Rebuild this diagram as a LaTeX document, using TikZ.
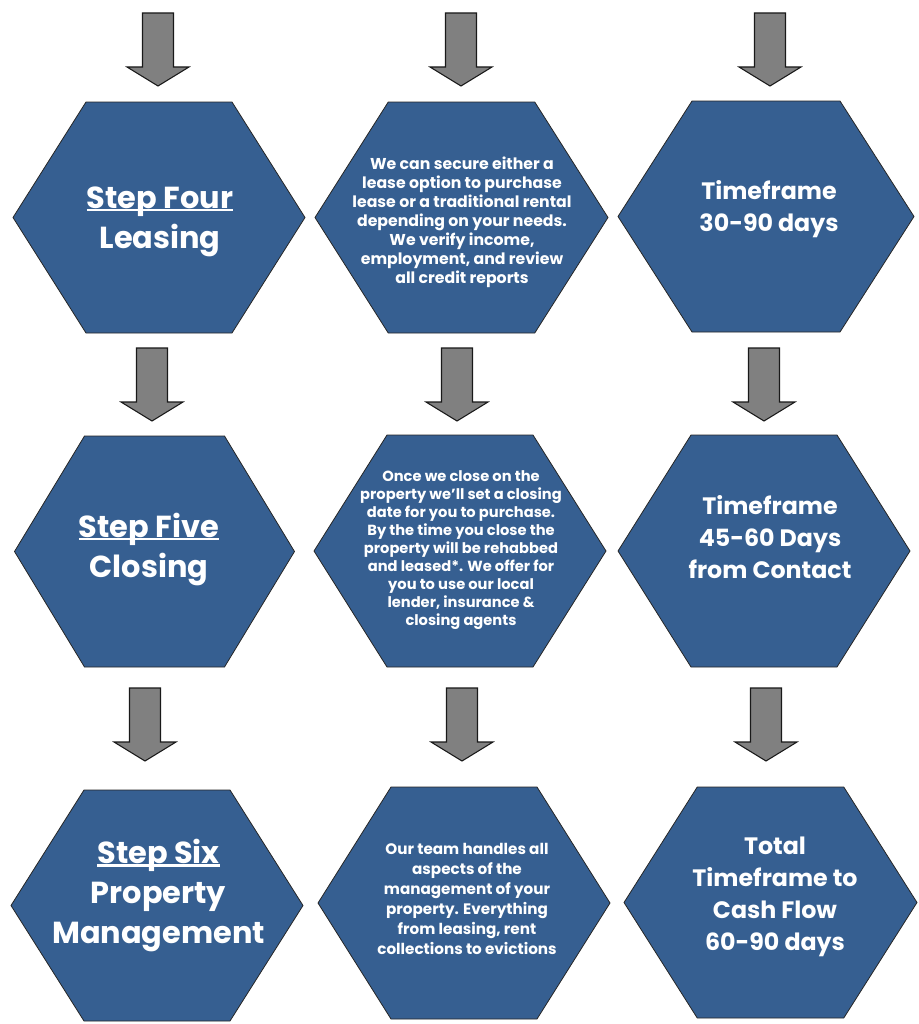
\documentclass[tikz,border=0pt]{standalone}
\usepackage{fontspec}
\setmainfont{Poppins}
\definecolor{hexblue}{RGB}{54,95,145}
\definecolor{arrowgray}{RGB}{128,128,128}
% underline that sits close to the baseline
\newcommand{\stepline}[1]{\setbox0\hbox{#1}\rlap{\rule[-0.1em]{\wd0}{0.075em}}\box0}

\begin{document}
\begin{tikzpicture}[x=0.75pt, y=-0.75pt,
  every node/.style={text=white, font=\bfseries, align=center, inner sep=0pt},
  hexcell/.style={fill=hexblue, draw=black!85, line width=0.6pt},
  blockarrow/.style={fill=arrowgray, draw=black!90, line width=0.8pt},
  steptext/.style={font=\bfseries\fontsize{22.8}{30}\selectfont},
  timetext/.style={font=\bfseries\fontsize{17.8}{24}\selectfont}]
  \useasboundingbox (0,0) rectangle (919,1024);

  % hexagons: centre x / centre y / width / height
  \foreach \cx/\cy/\w/\h in {159/217.5/292/231, 461.5/217.5/293/231, 766/216.5/296/231,
                              154.5/551.5/280/231, 460/551/292/232, 764/551/292/232,
                              157/905.5/292/231, 464/903/292/232, 770.5/902.5/293/231}
    \draw[hexcell] (\cx-\w/2,\cy) -- (\cx-\w/4,\cy-\h/2) -- (\cx+\w/4,\cy-\h/2)
      -- (\cx+\w/2,\cy) -- (\cx+\w/4,\cy+\h/2) -- (\cx-\w/4,\cy+\h/2) -- cycle;

  % down arrows: tip x / top y
  \foreach \ax/\ay in {158/13, 461/13, 770/13,
                       152/348, 457/348, 764/348,
                       145/688, 462/688, 766/688}
    \draw[blockarrow] (\ax-15.5,\ay) -- (\ax+15.5,\ay) -- (\ax+15.5,\ay+54)
      -- (\ax+31,\ay+54) -- (\ax,\ay+73) -- (\ax-31,\ay+54) -- (\ax-15.5,\ay+54) -- cycle;

  % first column
  \node[steptext] (leasing) at (160,221.5) {\stepline{Step Four}\\Leasing};
  \node[steptext] (closing) at (149,549) {\stepline{Step Five}\\Closing};
  \node[steptext] (manage) at (158.5,895.5) {\stepline{Step Six}\\Property\\Management};

  % second column
  \node[font=\bfseries\fontsize{11.8}{14.3}\selectfont] (leaseinfo) at (462,222) {We can secure either a\\lease option to purchase\\lease or a traditional rental\\depending on your needs.\\We verify income,\\employment, and review\\all credit reports};
  \node[font=\bfseries\fontsize{11}{13.5}\selectfont] (closeinfo) at (461,550) {Once we close on the\\property we'll set a closing\\date for you to purchase.\\By the time you close the\\property will be rehabbed\\and leased*. We offer for\\you to use our local\\lender, insurance \&\\closing agents};
  \node[font=\bfseries\fontsize{11.4}{15}\selectfont] (manageinfo) at (467,899) {Our team handles all\\aspects of the\\management of your\\property. Everything\\from leasing, rent\\collections to evictions};

  % third column
  \node[timetext] (leasetime) at (769,209) {Timeframe\\30-90 days};
  \node[timetext] (closetime) at (770,537.5) {Timeframe\\45-60 Days\\from Contact};
  \node[timetext] (totaltime) at (775,896.5) {Total\\Timeframe to\\Cash Flow\\60-90 days};
\end{tikzpicture}
\end{document}
